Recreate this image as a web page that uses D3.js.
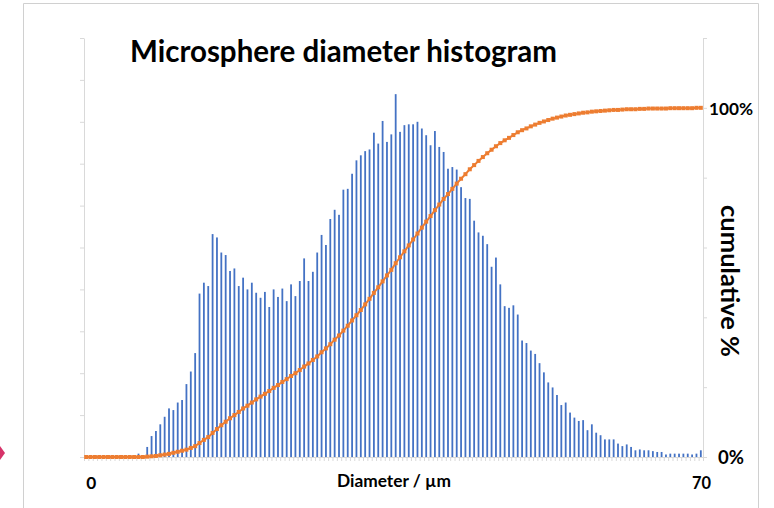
<!DOCTYPE html>
<html>
<head>
<meta charset="utf-8">
<script src="https://cdn.jsdelivr.net/npm/d3@7/dist/d3.min.js"></script>
<style>
  body { margin: 0; background: #fff; }
  svg { display: block; font-family: Lato, "DejaVu Sans", sans-serif; }
</style>
</head>
<body>
<div id="chart"></div>
<script>
// histogram counts per 0.5 um bin (bins 0 .. 70.5 um)
const counts = [
  0, 0, 0, 0, 0, 0, 0, 0, 0, 0, 0, 0,
  4, 1, 12, 25, 31, 39, 48, 58, 56, 65, 68, 87, 102, 124,
  195, 208, 204, 266, 262, 244, 241, 222, 225, 204, 214, 200, 208, 196, 190,
  197, 179, 200, 191, 201, 186, 206, 192, 210, 237, 210, 221, 244, 265, 253,
  284, 295, 289, 319, 320, 338, 354, 360, 365, 367, 387, 374, 401, 376, 385, 433,
  388, 396, 397, 397, 400, 392, 384, 372, 389, 370, 364, 344, 346, 343, 322, 309, 308, 282, 268, 264,
  254, 227, 238, 206, 180, 178, 181, 170, 139, 136, 127, 123, 112, 101, 89, 83, 74, 62, 65, 53, 47, 43, 44, 32,
  39, 29, 26, 21, 21, 21, 16, 13, 15, 12, 8, 9, 8, 8, 7, 6, 6, 3, 4, 4, 4, 4, 4, 3, 4, 8
];

// cumulative %
const cumulative = [
  0, 0, 0, 0, 0, 0, 0, 0, 0, 0, 0, 0,
  0.0, 0.0, 0.1, 0.2, 0.3, 0.5, 0.7, 0.9, 1.2, 1.5, 1.8, 2.1, 2.6, 3.1,
  4.0, 4.9, 5.7, 6.9, 8.0, 9.1, 10.1, 11.1, 12.0, 12.9, 13.9, 14.7, 15.6, 16.5, 17.3,
  18.1, 18.9, 19.8, 20.6, 21.5, 22.3, 23.2, 24.0, 24.9, 25.9, 26.8, 27.8, 28.8, 30.0, 31.1,
  32.3, 33.6, 34.8, 36.2, 37.6, 39.1, 40.6, 42.1, 43.7, 45.3, 47.0, 48.6, 50.3, 52.0, 53.6, 55.5,
  57.2, 58.9, 60.6, 62.3, 64.0, 65.7, 67.4, 69.0, 70.7, 72.3, 73.9, 75.3, 76.8, 78.3, 79.7, 81.0, 82.4, 83.6, 84.8, 85.9,
  87.0, 88.0, 89.0, 89.9, 90.7, 91.4, 92.2, 93.0, 93.6, 94.1, 94.7, 95.2, 95.7, 96.1, 96.5, 96.9, 97.2, 97.5, 97.8, 98.0, 98.2, 98.4, 98.6, 98.7,
  98.9, 99.0, 99.1, 99.2, 99.3, 99.4, 99.4, 99.5, 99.6, 99.6, 99.6, 99.7, 99.7, 99.8, 99.8, 99.8, 99.8, 99.8, 99.9, 99.9, 99.9, 99.9, 99.9, 99.9, 100.0, 100.0
];

const binSize = 0.5;
const xLabels = [0, 70];
const rightLabels = [0, 100];
const title = "Microsphere diameter histogram";
const xTitle = "Diameter  /  \u00b5m";
const yRightTitle = "cumulative %";

const width = 774, height = 508;
const plotLeft = 84, plotRight = 703, plotTop = 38, plotBottom = 457;

const svg = d3.select("#chart").append("svg")
    .attr("width", width)
    .attr("height", height);

// slide frame + pointer arrow
svg.append("path")
    .attr("d", "M23.5,508V3.5H758.5V508")
    .attr("fill", "none")
    .attr("stroke", "#d0d0d0");
svg.append("path")
    .attr("d", "M0,446L5,453L0,460Z")
    .attr("fill", "#d63369");

const x = d3.scaleLinear().domain([0, counts.length]).range([plotLeft, plotRight]);
const yL = d3.scaleLinear().domain([0, 500]).range([plotBottom, plotTop]);
const yR = d3.scaleLinear().domain([0, 120]).range([plotBottom, plotTop]);

const axisColor = "#d9d9d9";

function styleAxis(g) {
    g.selectAll("path, line").attr("stroke", axisColor);
    g.selectAll("text").remove();
}

svg.append("g")
    .attr("transform", `translate(${plotLeft},0)`)
    .call(d3.axisLeft(yL).tickValues(d3.range(0, 501, 50)).tickSize(4).tickSizeOuter(0).tickFormat(""))
    .call(styleAxis);

svg.append("g")
    .attr("transform", `translate(${plotRight},0)`)
    .call(d3.axisRight(yR).tickValues(d3.range(0, 121, 20)).tickSize(4).tickSizeOuter(0).tickFormat(""))
    .call(styleAxis);

svg.append("g")
    .attr("transform", `translate(0,${plotBottom})`)
    .call(d3.axisBottom(x).tickValues(d3.range(0, counts.length + 1)).tickSize(4).tickSizeOuter(0).tickFormat(""))
    .call(styleAxis);

// bars
const bw = 1.8;
svg.append("g")
    .selectAll("rect")
    .data(counts)
    .join("rect")
    .attr("x", (d, i) => x(i + 0.5) - bw / 2)
    .attr("y", d => yL(d))
    .attr("width", bw)
    .attr("height", d => yL(0) - yL(d))
    .attr("fill", "#4472c4");

// cumulative line
const line = d3.line()
    .x((d, i) => x(i + 0.5))
    .y(d => yR(d));

svg.append("path")
    .datum(cumulative)
    .attr("d", line)
    .attr("fill", "none")
    .attr("stroke", "#ed7d31")
    .attr("stroke-width", 2);

svg.append("g")
    .selectAll("rect")
    .data(cumulative)
    .join("rect")
    .attr("x", (d, i) => x(i + 0.5) - 2)
    .attr("y", d => yR(d) - 2)
    .attr("width", 4)
    .attr("height", 4)
    .attr("fill", "#ed7d31");

// fit a text element to a target width
function fit(sel, target, size) {
    sel.style("font-size", size + "px");
    const w = sel.node().getComputedTextLength();
    sel.style("font-size", (size * target / w).toFixed(2) + "px");
    return sel;
}

const bold = t => t.attr("font-weight", "bold").attr("fill", "#000");

fit(svg.append("text").attr("x", 130).attr("y", 62).text(title).call(bold), 427, 26);

fit(svg.append("text").attr("x", 394).attr("y", 487)
    .attr("text-anchor", "middle").text(xTitle).call(bold), 114, 14);

const xLabelWidth = [10, 19];
xLabels.forEach((v, i) => {
    fit(svg.append("text")
        .attr("x", x(v / binSize + 0.5) + 5)
        .attr("y", 489)
        .attr("text-anchor", "middle")
        .text(v)
        .call(bold), xLabelWidth[i], 16);
});

fit(svg.append("text")
    .attr("x", 709).attr("y", yR(rightLabels[1]) + 7)
    .text(rightLabels[1] + "%")
    .call(bold), 44, 18);
fit(svg.append("text")
    .attr("x", 718).attr("y", yR(rightLabels[0]) + 7)
    .text(rightLabels[0] + "%")
    .call(bold), 26, 18);

fit(svg.append("text")
    .attr("transform", "translate(721,281) rotate(90)")
    .attr("text-anchor", "middle")
    .text(yRightTitle).call(bold), 152, 20);
</script>
</body>
</html>
